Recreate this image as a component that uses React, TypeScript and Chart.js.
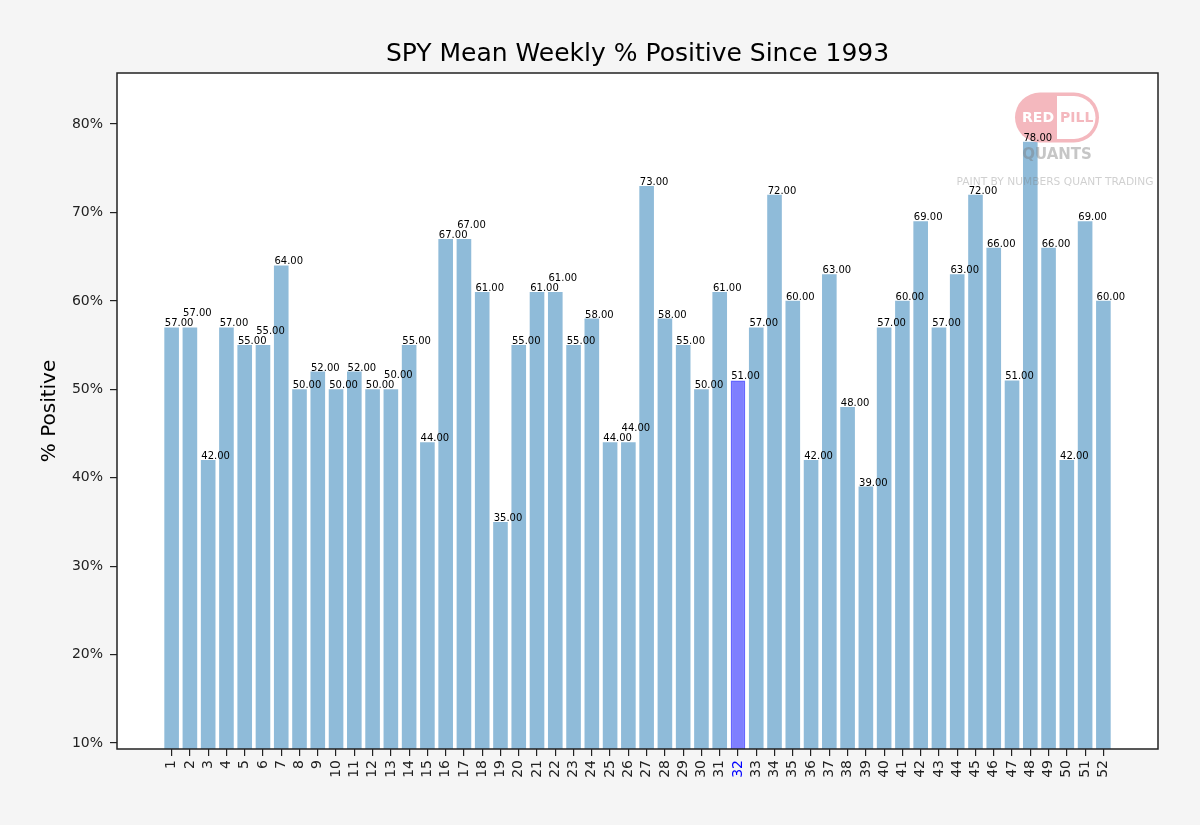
import React, { useEffect, useRef } from "react";
import { Chart, registerables } from "chart.js";

Chart.register(...registerables);

const weeks: string[] = [
  "1", "2", "3", "4", "5", "6", "7", "8", "9", "10", "11", "12", "13",
  "14", "15", "16", "17", "18", "19", "20", "21", "22", "23", "24", "25", "26",
  "27", "28", "29", "30", "31", "32", "33", "34", "35", "36", "37", "38", "39",
  "40", "41", "42", "43", "44", "45", "46", "47", "48", "49", "50", "51", "52",
];

const pctPositive: number[] = [
  57, 57, 42, 57, 55, 55, 64, 50, 52, 50, 52, 50, 50,
  55, 44, 67, 67, 61, 35, 55, 61, 61, 55, 58, 44, 44,
  73, 58, 55, 50, 61, 51, 57, 72, 60, 42, 63, 48, 39,
  57, 60, 69, 57, 63, 72, 66, 51, 78, 66, 42, 69, 60,
];

const yTicks: number[] = [10, 20, 30, 40, 50, 60, 70, 80];

const highlightWeek = "32";
const titleText = "SPY Mean Weekly % Positive Since 1993";
const yAxisTitle = "% Positive";

const FONT = '"DejaVu Sans", sans-serif';
const BAR_COLOR = "rgba(31,119,180,0.5)";
const HL_COLOR = "rgba(0,0,255,0.5)";
const HL_EDGE = "rgba(0,0,255,0.6)";

const hlIndex = weeks.indexOf(highlightWeek);

const decorPlugin = {
  id: "decor",
  beforeDraw(chart: any) {
    const { ctx, chartArea } = chart;
    ctx.save();
    ctx.fillStyle = "#f5f5f5";
    ctx.fillRect(0, 0, chart.width, chart.height);
    ctx.fillStyle = "#ffffff";
    ctx.fillRect(chartArea.left, chartArea.top, chartArea.right - chartArea.left, chartArea.bottom - chartArea.top);
    ctx.restore();
  },
  afterDatasetsDraw(chart: any) {
    const { ctx, chartArea } = chart;
    // watermark logo
    ctx.save();
    const cx = 1057, cy = 117.5, pw = 84, ph = 50;
    const lx = cx - pw / 2, ty = cy - ph / 2;
    const pill = (x: number, y: number, w: number, h: number) => {
      const rr = h / 2;
      ctx.beginPath();
      ctx.moveTo(x + rr, y);
      ctx.lineTo(x + w - rr, y);
      ctx.arc(x + w - rr, y + rr, rr, -Math.PI / 2, Math.PI / 2);
      ctx.lineTo(x + rr, y + h);
      ctx.arc(x + rr, y + rr, rr, Math.PI / 2, Math.PI * 1.5);
      ctx.closePath();
    };
    ctx.fillStyle = "#f4b8be";
    pill(lx, ty, pw, ph);
    ctx.fill();
    ctx.save();
    ctx.beginPath();
    ctx.rect(cx, ty - 2, pw, ph + 4);
    ctx.clip();
    ctx.fillStyle = "#ffffff";
    pill(lx + 3.5, ty + 3.5, pw - 7, ph - 7);
    ctx.fill();
    ctx.restore();
    ctx.font = "bold 14px " + FONT;
    ctx.textBaseline = "middle";
    ctx.textAlign = "right";
    ctx.fillStyle = "#ffffff";
    ctx.fillText("RED", cx - 3, cy + 1);
    ctx.textAlign = "left";
    ctx.fillStyle = "#f4b8be";
    ctx.fillText("PILL", cx + 3, cy + 1);
    ctx.textAlign = "center";
    ctx.fillStyle = "rgba(120,120,120,0.42)";
    ctx.font = "bold 15px " + FONT;
    ctx.fillText("QUANTS", cx, 155.5);
    ctx.font = "10px " + FONT;
    const sub = "PAINT BY NUMBERS QUANT TRADING";
    const mw = ctx.measureText(sub).width;
    const fs = 10 * 197 / mw;
    ctx.font = fs.toFixed(2) + "px " + FONT;
    ctx.fillStyle = "rgba(120,120,120,0.35)";
    ctx.fillText(sub, cx - 2, 182);
    ctx.restore();

    // value labels
    const meta = chart.getDatasetMeta(0);
    ctx.save();
    ctx.font = "10px " + FONT;
    ctx.fillStyle = "#000000";
    ctx.textAlign = "left";
    ctx.textBaseline = "alphabetic";
    const placed: { x0: number; x1: number; y0: number; y1: number }[] = [];
    const h = 10;
    meta.data.forEach((el: any, i: number) => {
      const text = pctPositive[i].toFixed(2);
      const w = ctx.measureText(text).width;
      const left = el.x - el.width / 2 + 0.5;
      let base = el.y - 1;
      let moved = true;
      let guard = 0;
      while (moved && guard < 50) {
        moved = false;
        guard++;
        for (const p of placed) {
          if (left < p.x1 && left + w > p.x0 && base - h < p.y1 && base > p.y0) {
            base = p.y0;
            moved = true;
          }
        }
      }
      placed.push({ x0: left, x1: left + w, y0: base - h, y1: base });
      ctx.fillText(text, left, base);
    });
    ctx.restore();

    // frame
    ctx.save();
    ctx.strokeStyle = "#222222";
    ctx.lineWidth = 1.5;
    ctx.strokeRect(chartArea.left, chartArea.top, chartArea.right - chartArea.left, chartArea.bottom - chartArea.top);
    ctx.restore();
  },
  afterDraw(chart: any) {
    const { ctx, chartArea } = chart;
    ctx.save();
    ctx.fillStyle = "#000000";
    ctx.textAlign = "center";
    ctx.textBaseline = "alphabetic";
    ctx.font = "25px " + FONT;
    ctx.fillText(titleText, (chartArea.left + chartArea.right) / 2, 61);
    ctx.translate(50, (chartArea.top + chartArea.bottom) / 2);
    ctx.rotate(-Math.PI / 2);
    ctx.textBaseline = "middle";
    ctx.font = "20px " + FONT;
    ctx.fillText(yAxisTitle, 0, 0);
    ctx.restore();
  },
};

export default function App() {
  const ref = useRef<HTMLCanvasElement | null>(null);
  useEffect(() => {
    if (!ref.current) return;
    const chart = new Chart(ref.current, {
      type: "bar",
      data: {
        datasets: [
          {
            data: pctPositive.map((v, i) => ({ x: i, y: v })),
            backgroundColor: pctPositive.map((_, i) => (i === hlIndex ? HL_COLOR : BAR_COLOR)),
            borderColor: pctPositive.map((_, i) => (i === hlIndex ? HL_EDGE : "rgba(0,0,0,0)")),
            borderWidth: pctPositive.map((_, i) => (i === hlIndex ? 1.5 : 0)),
            borderSkipped: false,
            categoryPercentage: 1,
            barPercentage: 0.8,
          } as any,
        ],
      },
      options: {
        responsive: false,
        animation: false,
        devicePixelRatio: 1,
        layout: { padding: { top: 73, right: 42, left: 0, bottom: 0 } },
        plugins: {
          legend: { display: false },
          title: { display: false },
          tooltip: { enabled: false },
        },
        scales: {
          x: {
            type: "linear",
            offset: false,
            min: -2.99,
            max: weeks.length - 1 + 2.99,
            afterBuildTicks: (axis: any) => {
              axis.ticks = weeks.map((_, i) => ({ value: i }));
            },
            afterFit: (axis: any) => {
              axis.height = 76;
            },
            ticks: {
              autoSkip: false,
              maxRotation: 90,
              minRotation: 90,
              padding: 4,
              font: { family: "DejaVu Sans", size: 14 },
              color: (c: any) => (c.tick && c.tick.value === hlIndex ? "#0000ff" : "#222222"),
              callback: (v: any) => weeks[Math.round(Number(v))] ?? "",
            },
            grid: {
              display: true,
              drawOnChartArea: false,
              drawTicks: true,
              offset: false,
              tickLength: 7,
              color: "#222222",
              lineWidth: 1.2,
            },
            border: { display: false },
          },
          y: {
            type: "linear",
            min: 9.32,
            max: 85.77,
            afterBuildTicks: (axis: any) => {
              axis.ticks = yTicks.map((v) => ({ value: v }));
            },
            afterFit: (axis: any) => {
              axis.width = 117;
            },
            ticks: {
              padding: 7,
              font: { family: "DejaVu Sans", size: 14 },
              color: "#222222",
              callback: (v: any) => `${v}%`,
            },
            grid: {
              display: true,
              drawOnChartArea: false,
              drawTicks: true,
              tickLength: 7,
              color: "#222222",
              lineWidth: 1.2,
            },
            border: { display: false },
          },
        },
      } as any,
      plugins: [decorPlugin],
    });
    return () => chart.destroy();
  }, []);
  return (
    <div style={{ position: "absolute", left: 0, top: 0, width: 1200, height: 825, background: "#f5f5f5" }}>
      <canvas ref={ref} width={1200} height={825} style={{ display: "block" }} />
    </div>
  );
}
